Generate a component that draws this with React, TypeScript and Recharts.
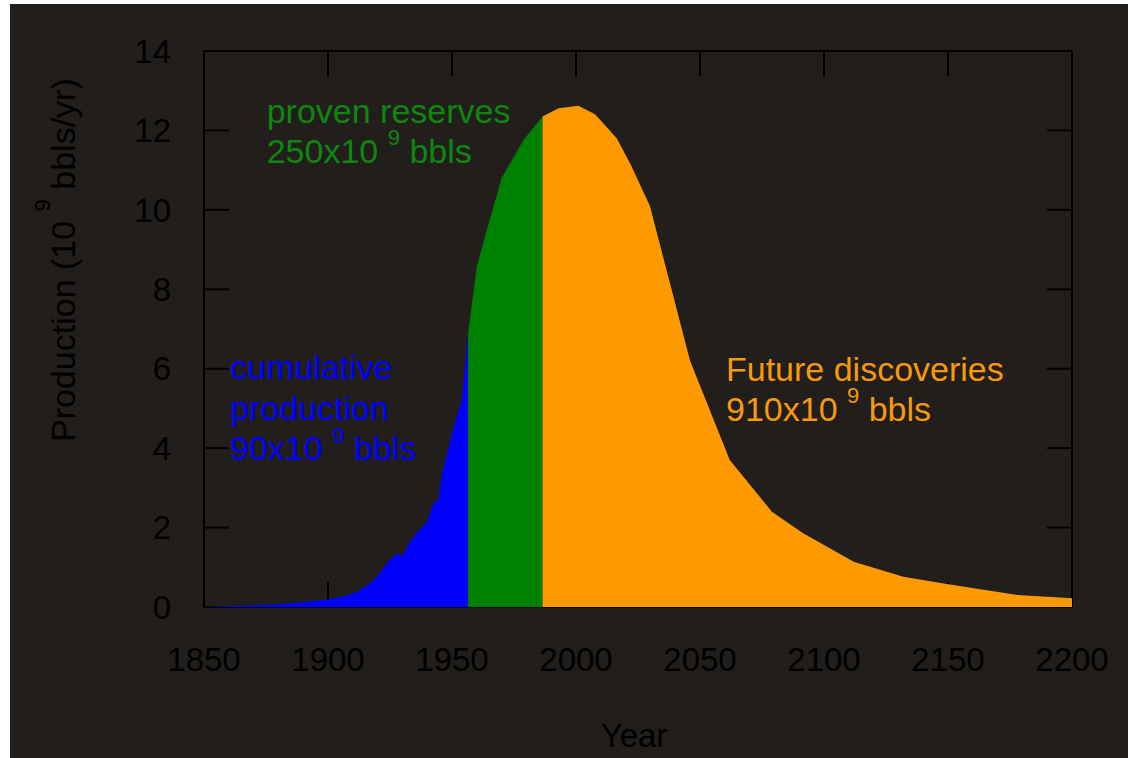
import React from 'react'
import { AreaChart, Area, XAxis, YAxis } from 'recharts'

// Hubbert-style production curve, split in three coloured regions
const cumulativeYears = [1850, 1860, 1870, 1880, 1890, 1900, 1905, 1910, 1913, 1918, 1921, 1924, 1928, 1930, 1933, 1937, 1940, 1942.5, 1944.5, 1946, 1948, 1951, 1954, 1956.5]
const cumulativeValues = [0, 0.02, 0.04, 0.07, 0.12, 0.19, 0.25, 0.34, 0.43, 0.65, 0.86, 1.12, 1.36, 1.28, 1.64, 1.95, 2.15, 2.61, 2.7, 3.35, 3.85, 4.6, 5.2, 6.9]

const reservesYears = [1956.5, 1960, 1963.3, 1970, 1978.8, 1986.5]
const reservesValues = [6.9, 8.57, 9.33, 10.8, 11.76, 12.35]

const futureYears = [1986.5, 1993, 2001, 2007.7, 2016.4, 2022, 2029.8, 2046, 2062, 2079, 2091.6, 2112, 2132, 2149.5, 2178, 2200]
const futureValues = [12.35, 12.56, 12.62, 12.41, 11.8, 11.15, 10.1, 6.2, 3.7, 2.4, 1.86, 1.14, 0.76, 0.58, 0.3, 0.22]

const xTicks = [1850, 1900, 1950, 2000, 2050, 2100, 2150, 2200]
const yTicks = [0, 2, 4, 6, 8, 10, 12, 14]

const BG = '#211e1b'
const FONT = '"Liberation Sans", Arial, sans-serif'

type Row = { year: number; cumulative?: number; reserves?: number; future?: number }

function buildRows(): Row[] {
  const byYear = new Map<number, Row>()
  const add = (years: number[], values: number[], key: 'cumulative' | 'reserves' | 'future') => {
    years.forEach((y, i) => {
      const row = byYear.get(y) ?? { year: y }
      row[key] = values[i]
      byYear.set(y, row)
    })
  }
  add(cumulativeYears, cumulativeValues, 'cumulative')
  add(reservesYears, reservesValues, 'reserves')
  add(futureYears, futureValues, 'future')
  return [...byYear.values()].sort((a, b) => a.year - b.year)
}

const rows = buildRows()

const axisLine = { stroke: '#000', strokeWidth: 2 }
const tickLine = { stroke: '#000', strokeWidth: 2 }
const tickStyle = { fontSize: 33, fill: '#000', fontFamily: FONT }
// mirrored axes: keep the tick marks, drop the labels
const noLabel = () => <g />

function Sup({ children, lift }: { children: React.ReactNode; lift: number }) {
  return (
    <>
      <tspan dy={-lift} fontSize={22}>{children}</tspan>
      <tspan dy={lift}> </tspan>
    </>
  )
}

export default function App() {
  return (
    <div style={{ position: 'absolute', left: 10, top: 4, width: 1118, height: 754, background: BG, fontFamily: FONT }}>
      <AreaChart
        width={1118}
        height={754}
        data={rows}
        margin={{ top: 46, right: 55, bottom: 91, left: 114 }}
      >
        <XAxis
          dataKey="year"
          type="number"
          domain={[1850, 2200]}
          ticks={xTicks}
          height={60}
          axisLine={axisLine}
          tickLine={tickLine}
          tickSize={-25}
          tickMargin={66}
          tick={tickStyle}
          allowDataOverflow
          zIndex={50}
        />
        <XAxis
          xAxisId="top"
          orientation="top"
          dataKey="year"
          type="number"
          domain={[1850, 2200]}
          ticks={xTicks}
          height={1}
          axisLine={axisLine}
          tickLine={tickLine}
          tickSize={-25}
          tick={noLabel}
          allowDataOverflow
          zIndex={50}
        />
        <YAxis
          type="number"
          domain={[0, 14]}
          ticks={yTicks}
          width={80}
          axisLine={axisLine}
          tickLine={tickLine}
          tickSize={-25}
          tickMargin={58}
          tick={tickStyle}
          allowDataOverflow
          zIndex={50}
        />
        <YAxis
          yAxisId="right"
          orientation="right"
          type="number"
          domain={[0, 14]}
          ticks={yTicks}
          width={1}
          axisLine={axisLine}
          tickLine={tickLine}
          tickSize={-25}
          tick={noLabel}
          allowDataOverflow
          zIndex={50}
        />
        {/* invisible series so the mirrored top/right axes get drawn */}
        <Area xAxisId="top" yAxisId="right" type="linear" dataKey="future" stroke="none" fill="none" isAnimationActive={false} dot={false} activeDot={false} />
        <Area type="linear" dataKey="cumulative" stroke="none" fill="#0000ff" fillOpacity={1} isAnimationActive={false} dot={false} activeDot={false} />
        <Area type="linear" dataKey="reserves" stroke="none" fill="#008000" fillOpacity={1} isAnimationActive={false} dot={false} activeDot={false} />
        <Area type="linear" dataKey="future" stroke="none" fill="#ff9900" fillOpacity={1} isAnimationActive={false} dot={false} activeDot={false} />
      </AreaChart>

      <svg width={1118} height={754} style={{ position: 'absolute', left: 0, top: 0, pointerEvents: 'none' }} fontFamily={FONT} fontSize={34}>
        <g fill="#0d870d">
          <text x={256.7} y={118.7}>proven reserves</text>
          <text x={256.7} y={158.7}>250x10 <Sup lift={18}>9</Sup>bbls</text>
        </g>
        <g fill="#0000ff">
          <text x={220} y={375}>cumulative</text>
          <text x={220} y={416}>production</text>
          <text x={220} y={456}>90x10 <Sup lift={17}>9</Sup>bbls</text>
        </g>
        <g fill="#f7990c">
          <text x={716} y={377}>Future discoveries</text>
          <text x={716} y={417}>910x10 <Sup lift={18}>9</Sup>bbls</text>
        </g>
        <text x={624} y={743} textAnchor="middle" fill="#000" fontSize={33}>Year</text>
        <text transform="translate(65,438) rotate(-90)" fill="#000">
          Production (10 <Sup lift={25}>9</Sup>bbls/yr)
        </text>
      </svg>
    </div>
  )
}
